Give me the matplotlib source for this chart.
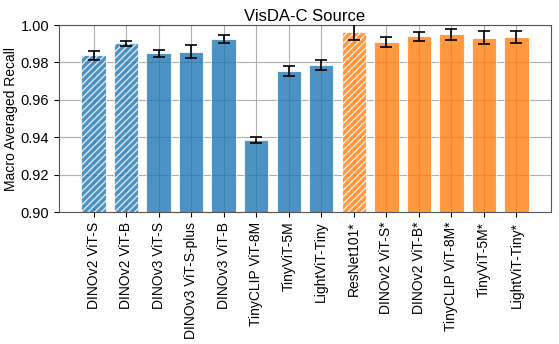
import numpy as np
import matplotlib.pyplot as plt

plt.rcParams['font.family'] = ['Liberation Sans', 'DejaVu Sans']

models = ['DINOv2 ViT-S', 'DINOv2 ViT-B', 'DINOv3 ViT-S', 'DINOv3 ViT-S-plus',
          'DINOv3 ViT-B', 'TinyCLIP ViT-8M', 'TinyViT-5M', 'LightViT-Tiny',
          'ResNet101*', 'DINOv2 ViT-S*', 'DINOv2 ViT-B*', 'TinyCLIP ViT-8M*',
          'TinyViT-5M*', 'LightViT-Tiny*']
recall = [0.9838, 0.9902, 0.9849, 0.9857, 0.9927, 0.9384, 0.9755, 0.9786,
          0.9961, 0.9911, 0.9941, 0.9950, 0.9932, 0.9936]
err = [0.0023, 0.0015, 0.0017, 0.0034, 0.0021, 0.0016, 0.0028, 0.0026,
       0.0043, 0.0026, 0.0024, 0.0029, 0.0034, 0.0033]
group = ['b'] * 8 + ['o'] * 6
hatched = [True, True, False, False, False, False, False, False,
           True, False, False, False, False, False]

fig = plt.figure(figsize=(5.59, 3.44), dpi=100)
ax = fig.add_axes([0.1055, 0.3837, 0.8802, 0.5433])

x = np.arange(len(models))
colors = ['#1f77b4' if g == 'b' else '#ff7f0e' for g in group]
plt.rcParams['hatch.color'] = 'white'
plt.rcParams['hatch.linewidth'] = 1.0
for i in range(len(models)):
    ax.bar(x[i], recall[i], width=0.75, color=colors[i], alpha=0.8,
           edgecolor='white', linewidth=0.8,
           hatch='/////' if hatched[i] else None, zorder=3)
ax.errorbar(x, recall, yerr=err, fmt='none', ecolor='black', elinewidth=1.2,
            capsize=4, capthick=1.2, zorder=4)

ax.set_ylim(0.90, 1.00)
ax.set_yticks([0.90, 0.92, 0.94, 0.96, 0.98, 1.00])
ax.set_yticklabels(['0.90', '0.92', '0.94', '0.96', '0.98', '1.00'], fontsize=10.5)
ax.set_xticks(x)
ax.set_xticklabels(models, rotation=90, fontsize=10)
ax.set_ylabel('Macro Averaged Recall', fontsize=10, labelpad=2)
ax.set_title('VisDA-C Source', fontsize=12, pad=3)
ax.grid(True, color='#b0b0b0', linewidth=0.8, zorder=0)
ax.set_axisbelow(True)
for s in ax.spines.values():
    s.set_color('#555555')

fig.savefig('out.png', dpi=100)
